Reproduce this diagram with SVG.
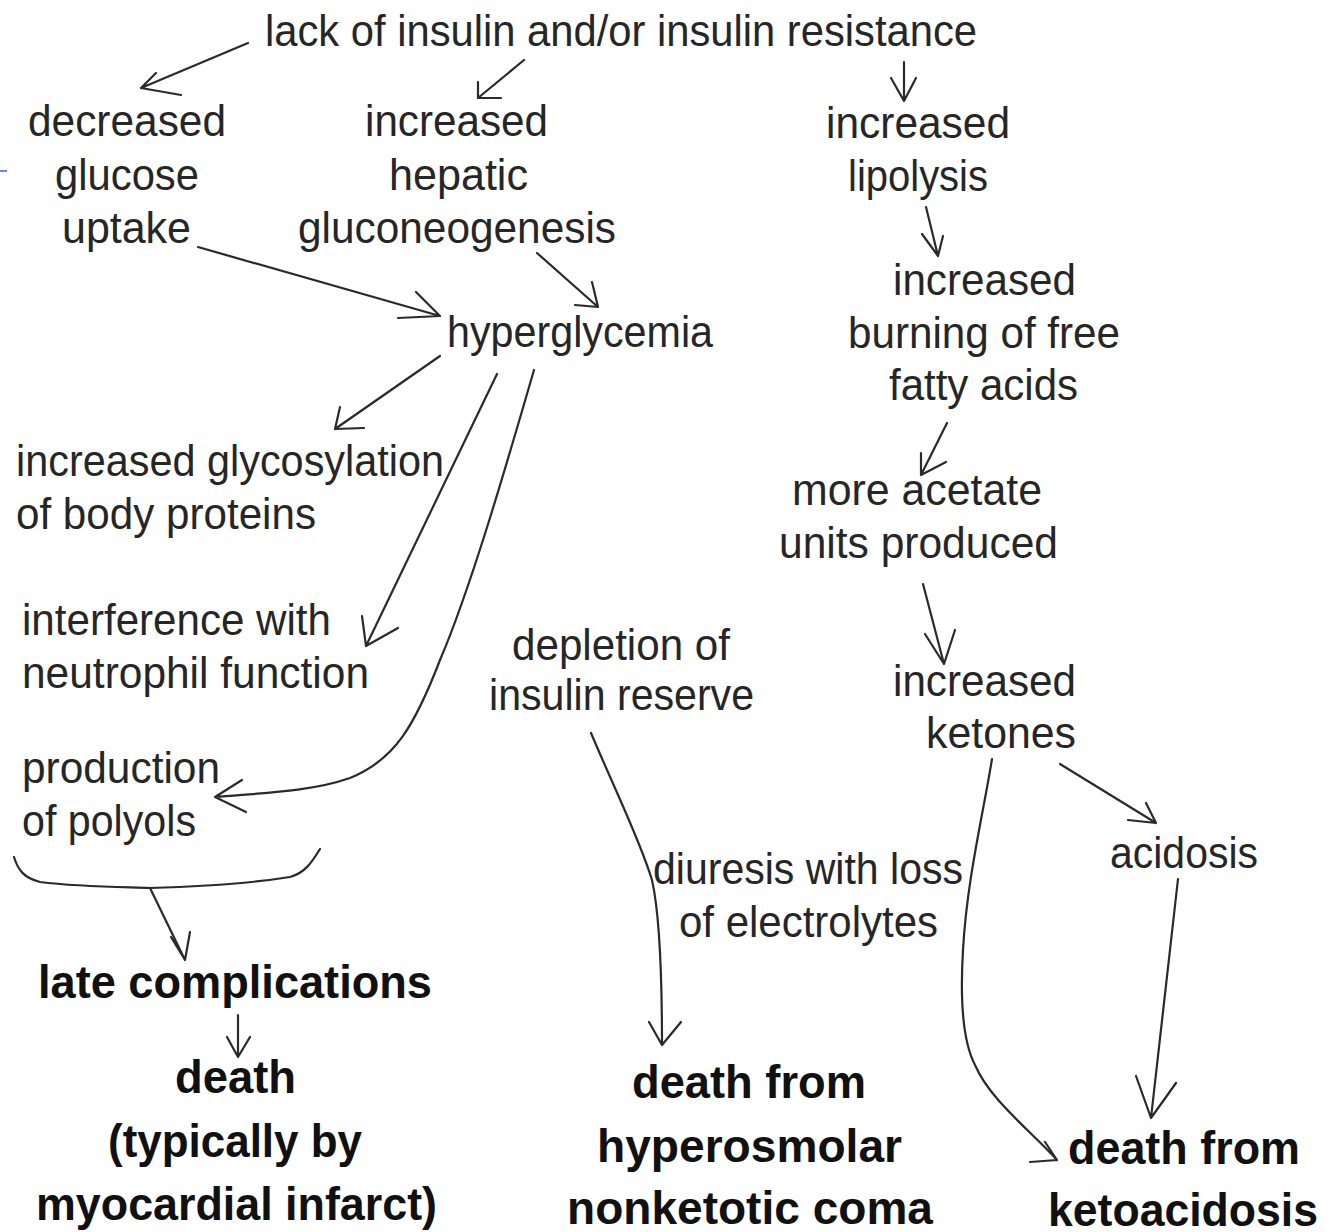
<svg xmlns="http://www.w3.org/2000/svg" width="1331" height="1232" viewBox="0 0 1331 1232">
<style>
.t{font-family:"Liberation Sans",Arial,sans-serif;font-size:44px;fill:#262626}
.b{font-family:"Liberation Sans",Arial,sans-serif;font-size:46px;font-weight:bold;fill:#111}
.c{fill:none;stroke:#2a2a2a;stroke-width:2.2;stroke-linecap:round;stroke-linejoin:round}
</style>
<rect width="1331" height="1232" fill="#fff"/>
<line x1="0" y1="171" x2="7" y2="171" stroke="#3b5bdb" stroke-width="1.5"/>
<g id="n-lack"><text class="t" x="265" y="46" textLength="712" lengthAdjust="spacingAndGlyphs">lack of insulin and/or insulin resistance</text></g>
<g id="n-decreased">
<text class="t" x="28" y="136" textLength="198" lengthAdjust="spacingAndGlyphs">decreased</text>
<text class="t" x="55" y="190" textLength="144" lengthAdjust="spacingAndGlyphs">glucose</text>
<text class="t" x="62" y="243" textLength="129" lengthAdjust="spacingAndGlyphs">uptake</text>
</g>
<g id="n-hepatic">
<text class="t" x="365" y="136" textLength="183" lengthAdjust="spacingAndGlyphs">increased</text>
<text class="t" x="389" y="190" textLength="139" lengthAdjust="spacingAndGlyphs">hepatic</text>
<text class="t" x="298" y="243" textLength="318" lengthAdjust="spacingAndGlyphs">gluconeogenesis</text>
</g>
<g id="n-lipolysis">
<text class="t" x="826" y="138" textLength="184" lengthAdjust="spacingAndGlyphs">increased</text>
<text class="t" x="848" y="191" textLength="140" lengthAdjust="spacingAndGlyphs">lipolysis</text>
</g>
<g id="n-burning">
<text class="t" x="893" y="295" textLength="183" lengthAdjust="spacingAndGlyphs">increased</text>
<text class="t" x="848" y="348" textLength="272" lengthAdjust="spacingAndGlyphs">burning of free</text>
<text class="t" x="889" y="400" textLength="189" lengthAdjust="spacingAndGlyphs">fatty acids</text>
</g>
<g id="n-hyperglycemia"><text class="t" x="447" y="347" textLength="266" lengthAdjust="spacingAndGlyphs">hyperglycemia</text></g>
<g id="n-glycosylation">
<text class="t" x="16" y="476" textLength="428" lengthAdjust="spacingAndGlyphs">increased glycosylation</text>
<text class="t" x="16" y="529" textLength="300" lengthAdjust="spacingAndGlyphs">of body proteins</text>
</g>
<g id="n-acetate">
<text class="t" x="792" y="505" textLength="250" lengthAdjust="spacingAndGlyphs">more acetate</text>
<text class="t" x="779" y="558" textLength="279" lengthAdjust="spacingAndGlyphs">units produced</text>
</g>
<g id="n-neutrophil">
<text class="t" x="22" y="635" textLength="309" lengthAdjust="spacingAndGlyphs">interference with</text>
<text class="t" x="22" y="688" textLength="347" lengthAdjust="spacingAndGlyphs">neutrophil function</text>
</g>
<g id="n-depletion">
<text class="t" x="512" y="660" textLength="218" lengthAdjust="spacingAndGlyphs">depletion of</text>
<text class="t" x="489" y="710" textLength="265" lengthAdjust="spacingAndGlyphs">insulin reserve</text>
</g>
<g id="n-ketones">
<text class="t" x="893" y="696" textLength="183" lengthAdjust="spacingAndGlyphs">increased</text>
<text class="t" x="926" y="748" textLength="150" lengthAdjust="spacingAndGlyphs">ketones</text>
</g>
<g id="n-polyols">
<text class="t" x="22" y="783" textLength="198" lengthAdjust="spacingAndGlyphs">production</text>
<text class="t" x="22" y="836" textLength="174" lengthAdjust="spacingAndGlyphs">of polyols</text>
</g>
<g id="n-acidosis"><text class="t" x="1110" y="868" textLength="148" lengthAdjust="spacingAndGlyphs">acidosis</text></g>
<g id="n-diuresis">
<text class="t" x="653" y="884" textLength="310" lengthAdjust="spacingAndGlyphs">diuresis with loss</text>
<text class="t" x="679" y="937" textLength="259" lengthAdjust="spacingAndGlyphs">of electrolytes</text>
</g>
<g id="n-late"><text class="b" x="38" y="998" textLength="394" lengthAdjust="spacingAndGlyphs">late complications</text></g>
<g id="n-death-mi">
<text class="b" x="175" y="1093" textLength="121" lengthAdjust="spacingAndGlyphs">death</text>
<text class="b" x="108" y="1157" textLength="254" lengthAdjust="spacingAndGlyphs">(typically by</text>
<text class="b" x="36" y="1220" textLength="401" lengthAdjust="spacingAndGlyphs">myocardial infarct)</text>
</g>
<g id="n-death-hhs">
<text class="b" x="632" y="1098" textLength="234" lengthAdjust="spacingAndGlyphs">death from</text>
<text class="b" x="597" y="1162" textLength="305" lengthAdjust="spacingAndGlyphs">hyperosmolar</text>
<text class="b" x="567" y="1224" textLength="366" lengthAdjust="spacingAndGlyphs">nonketotic coma</text>
</g>
<g id="n-death-dka">
<text class="b" x="1068" y="1164" textLength="232" lengthAdjust="spacingAndGlyphs">death from</text>
<text class="b" x="1048" y="1226" textLength="270" lengthAdjust="spacingAndGlyphs">ketoacidosis</text>
</g>
<g id="connectors" class="c">
<path d="M248 43 L141 88 M156 73 L141 88 L181 95"/>
<path d="M524 60 L478 98 M478 82 L478 98 L501 98"/>
<path d="M904 62 L904 101 M891 78 L904 101 L916 78"/>
<path d="M926 207 L938 256 M922 234 L938 256 L943 236"/>
<path d="M198 247 L440 316 M416 292 L440 316 L398 318"/>
<path d="M537 253 L598 307 M592 282 L598 307 L575 305"/>
<path d="M440 356 L335 429 M340 407 L335 429 L364 428"/>
<path d="M497 374 L366 646 M362 616 L366 646 L398 628"/>
<path d="M534 370 C505 470 470 590 440 660 C415 725 395 760 350 778 C310 792 260 793 215 797 M242 780 L215 797 L246 812"/>
<path d="M14 857 C18 870 24 878 40 882 C80 887 120 887 150 888 C190 887 240 885 290 877 C305 873 312 862 320 849"/>
<path d="M150 888 L185 960 M171 937 L185 960 L190 932"/>
<path d="M238 1015 L238 1057 M227 1037 L238 1057 L250 1037"/>
<path d="M947 423 L921 475 M921 453 L921 475 L946 462"/>
<path d="M923 584 L944 664 M925 634 L944 664 L955 630"/>
<path d="M1060 764 L1156 823 M1146 803 L1156 823 L1128 820"/>
<path d="M992 759 C982 820 967 880 963 950 C960 1000 962 1040 975 1065 C990 1100 1030 1130 1057 1160 M1045 1142 L1057 1160 L1030 1162"/>
<path d="M1178 879 L1151 1118 M1136 1076 L1151 1118 L1176 1083"/>
<path d="M591 733 C615 790 640 840 652 880 C661 920 662 990 662 1045 M649 1022 L662 1045 L681 1022"/>
</g>
</svg>
